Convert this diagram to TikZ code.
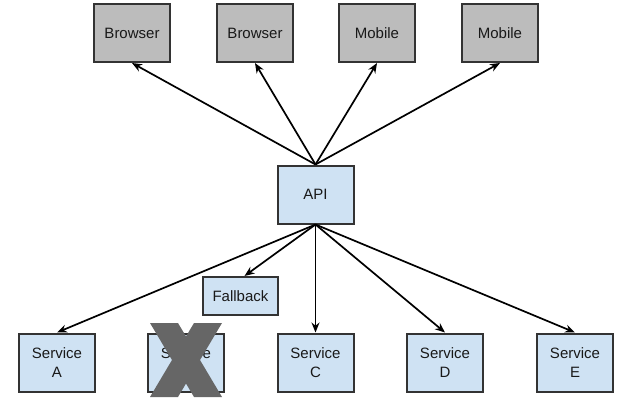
\documentclass[tikz,border=0pt]{standalone}
\usepackage{fontspec}
\setmainfont{Liberation Sans}
\usetikzlibrary{arrows.meta}

\definecolor{clientgray}{RGB}{188,188,188}
\definecolor{svcblue}{RGB}{207,226,243}
\definecolor{crossgray}{RGB}{102,102,102}

\begin{document}
\begin{tikzpicture}[x = 1pt, y = -1pt,
  box/.style = {draw = black!80, line width = 2pt, inner sep = 0pt,
    minimum width = 76pt, minimum height = 58pt, align = center,
    text = black!90, font = \fontsize{15}{19.5}\selectfont},
  client/.style = {box, fill = clientgray},
  svc/.style = {box, fill = svcblue},
  call/.style = {line width = 1.7pt, -{Stealth[length = 10pt, width = 8pt]}}]
\useasboundingbox (0,0) rectangle (640,412);
\node [client] (b1) at (132,33) {Browser};
\node [client] (b2) at (255,33) {Browser};
\node [client] (m1) at (377,33) {Mobile};
\node [client] (m2) at (500,33) {Mobile};
\node [svc] (api) at (315.5,194.5) {API};
\node [svc, minimum width = 75pt, minimum height = 38pt] (fb) at (240.5,296) {Fallback};
\node [svc] (sa) at (57,362.5) {Service\\A};
\node [svc] (sb) at (186,362.5) {Service\\B};
\node [svc] (sc) at (315.5,362.5) {Service\\C};
\node [svc] (sd) at (445,362.5) {Service\\D};
\node [svc] (se) at (575,362.5) {Service\\E};
\draw [call] (api.north) -- (b1.south);
\draw [call] (api.north) -- (b2.south);
\draw [call] (api.north) -- (m1.south);
\draw [call] (api.north) -- (m2.south);
\draw [call] (api.south) -- (sa.north);
\draw [call] (api.south) -- ([xshift = 4pt]fb.north);
\draw [call] (api.south) -- (sc.north);
\draw [call] (api.south) -- (sd.north);
\draw [call] (api.south) -- (se.north);
\fill [crossgray] (150,323) -- (178,323) -- (222,397) -- (194,397) -- cycle;
\fill [crossgray] (194,323) -- (222,323) -- (178,397) -- (150,397) -- cycle;
\end{tikzpicture}
\end{document}
